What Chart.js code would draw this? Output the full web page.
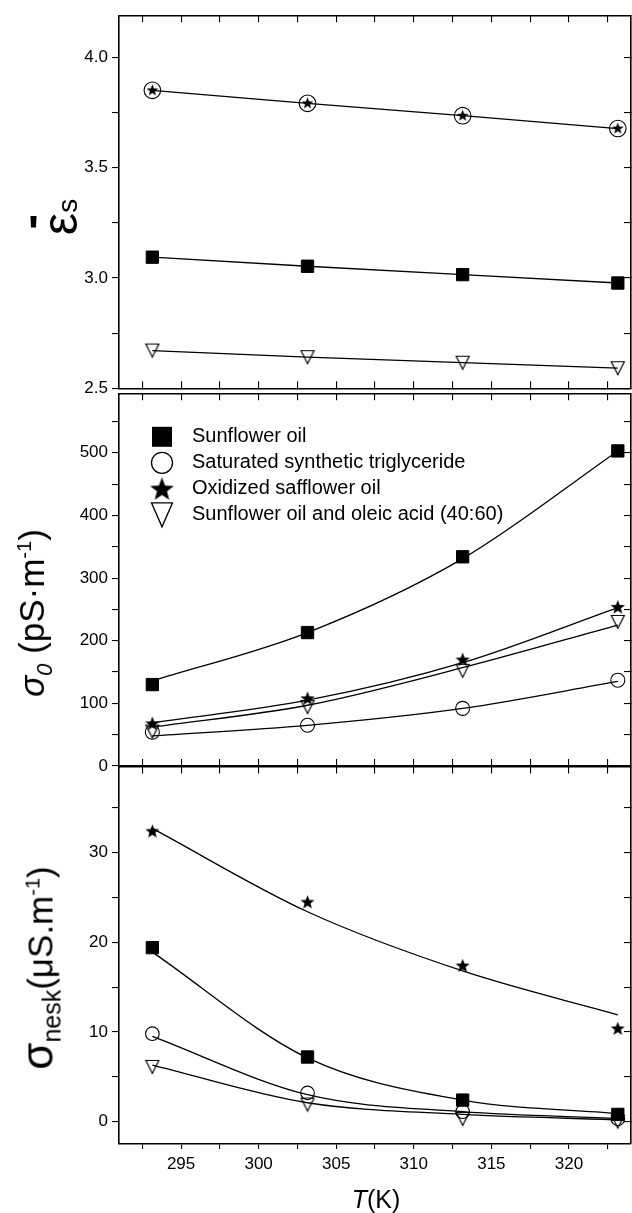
<!DOCTYPE html>
<html>
<head>
<meta charset="utf-8">
<script src="https://cdn.jsdelivr.net/npm/chart.js@4.4.1/dist/chart.umd.min.js"></script>
<style>
body { margin: 0; background: #fff; font-family: "Liberation Sans", Arial, sans-serif; }
#wrap { position: relative; width: 632px; height: 1213px; }
canvas { position: absolute; left: 0; top: 0; }
.ttl { position: absolute; white-space: nowrap; line-height: 1; color: #000; transform: translate(-50%, -50%) rotate(-90deg); }
</style>
</head>
<body>
<div id="wrap">
  <canvas id="eps_chart" width="632" height="1213"></canvas>
  <canvas id="sigma0_chart" width="632" height="1213"></canvas>
  <canvas id="nesk_chart" width="632" height="1213"></canvas>

  <div class="ttl" style="left:60px; top:217px; font-size:50px;">ε<span style="font-size:28px;">s</span></div>
  <div style="position:absolute; left:28px; top:209px; font-size:46px; font-weight:bold; line-height:1;">'</div>
  <div class="ttl" style="left:35px; top:613px; font-size:35px;"><i>σ</i><sub style="font-size:22px;"><i>0</i></sub> (pS·m<sup style="font-size:20px;">-1</sup>)</div>
  <div class="ttl" style="left:40px; top:968px; font-size:35px;"><span style="font-size:44px;">σ</span><sub style="font-size:25px;">nesk</sub>(μS.m<sup style="font-size:20px;">-1</sup>)</div>
  <div style="position:absolute; left:376px; top:1199px; transform:translate(-50%,-50%); font-size:25px; line-height:1; white-space:nowrap;"><i>T</i>(K)</div>
</div>

<script>
var temps = [293.15, 303.15, 313.15, 323.15];
var seriesNames = ['Sunflower oil', 'Saturated synthetic triglyceride', 'Oxidized safflower oil', 'Sunflower oil and oleic acid (40:60)'];

// top panel: static permittivity
var epsSunflower = [3.094, 3.053, 3.015, 2.977];
var epsSaturated = [3.850, 3.791, 3.735, 3.677];
var epsOxidized = [3.852, 3.793, 3.737, 3.679];
var epsOleic = [2.671, 2.641, 2.616, 2.591];

// middle panel: sigma0 (pS/m), measured points and fitted curves
var s0Sunflower = [130, 213, 334, 503];
var s0Saturated = [54, 65, 92, 137];
var s0Oxidized = [68, 108, 170, 254];
var s0Oleic = [55, 94, 152, 230];
var s0FitSunflower = [136, 213, 331, 503];
var s0FitSaturated = [48, 65, 92, 135];
var s0FitOxidized = [69, 105, 165, 253];
var s0FitOleic = [62, 97, 157, 225];

// bottom panel: sigma nesk (uS/m)
var snSunflower = [19.4, 7.2, 2.4, 0.8];
var snSaturated = [9.8, 3.2, 1.1, 0.3];
var snOxidized = [32.4, 24.5, 17.4, 10.4];
var snOleic = [6.1, 1.9, 0.3, 0.0];
var snFitSunflower = [18.9, 7.1, 2.4, 0.9];
var snFitSaturated = [9.5, 3.0, 1.1, 0.35];
var snFitOxidized = [32.7, 23.4, 16.8, 11.9];
var snFitOleic = [6.3, 2.1, 0.8, 0.2];

// ticks
var tempTicks = [292.5, 295, 297.5, 300, 302.5, 305, 307.5, 310, 312.5, 315, 317.5, 320, 322.5];
var tempLabels = [295, 300, 305, 310, 315, 320];
var epsTicks = [2.5, 2.75, 3.0, 3.25, 3.5, 3.75, 4.0];
var epsLabels = [2.5, 3.0, 3.5, 4.0];
var s0Ticks = [0, 50, 100, 150, 200, 250, 300, 350, 400, 450, 500, 550];
var s0Labels = [0, 100, 200, 300, 400, 500];
var snTicks = [0, 5, 10, 15, 20, 25, 30, 35];
var snLabels = [0, 10, 20, 30];

Chart.defaults.font.family = '"Liberation Sans", Arial, sans-serif';
Chart.defaults.font.size = 17;
Chart.defaults.color = '#000';

function pts(values) {
    return values.map(function (v, i) { return { x: temps[i], y: v }; });
}

function starImage(R) {
    var size = Math.ceil(2 * R) + 2;
    var c = document.createElement('canvas');
    c.width = size; c.height = size;
    var g = c.getContext('2d');
    var cx = size / 2, cy = size / 2 + R * 0.08;
    g.beginPath();
    for (var i = 0; i < 10; i++) {
        var a = -Math.PI / 2 + i * Math.PI / 5;
        var rr = i % 2 ? R * 0.42 : R;
        g.lineTo(cx + rr * Math.cos(a), cy + rr * Math.sin(a));
    }
    g.closePath();
    g.fillStyle = '#000';
    g.fill();
    return c;
}

function triImage(w, h) {
    var c = document.createElement('canvas');
    c.width = w + 3; c.height = h + 3;
    var g = c.getContext('2d');
    g.lineWidth = 1.2;
    g.strokeStyle = '#000';
    g.beginPath();
    g.moveTo(1.5, 1.5);
    g.lineTo(w + 1.5, 1.5);
    g.lineTo(w / 2 + 1.5, h + 1.5);
    g.closePath();
    g.stroke();
    return c;
}

var starSmall = starImage(6.2);
var starMid = starImage(7.6);
var starBottom = starImage(7.4);
var triMark = triImage(13, 13);

function squareSet(data, line) {
    return { data: pts(data), showLine: line, borderColor: '#000', borderWidth: 1.3,
        pointStyle: 'rect', pointRadius: 8.7, pointBackgroundColor: '#000', pointBorderColor: '#000', pointBorderWidth: 1, order: 1 };
}
function circleSet(data, line, r) {
    return { data: pts(data), showLine: line, borderColor: '#000', borderWidth: 1.3,
        pointStyle: 'circle', pointRadius: r, pointBackgroundColor: 'rgba(0,0,0,0)', pointBorderColor: '#000', pointBorderWidth: 1.1, order: 2 };
}
function starSet(data, img) {
    return { data: pts(data), showLine: false, pointStyle: img, pointRadius: 6, order: 0 };
}
function triSet(data, line) {
    return { data: pts(data), showLine: line, borderColor: '#000', borderWidth: 1.3,
        pointStyle: triMark, pointRadius: 6, order: 1 };
}
function fitSet(data) {
    return { data: pts(data), showLine: true, borderColor: '#000', borderWidth: 1.3,
        cubicInterpolationMode: 'monotone', pointRadius: 0, order: 5 };
}

function buildScales(yMin, yMax, yTicks, yLabels, digits, showX) {
    function setTicks(list) {
        return function (axis) { axis.ticks = list.map(function (v) { return { value: v }; }); };
    }
    var grid = function (len) { return { drawOnChartArea: false, drawTicks: true, tickLength: len, color: '#000', lineWidth: 1.1 }; };
    var border = { display: true, color: '#000', width: 1.6 };
    return {
        x: {
            type: 'linear', position: 'bottom', min: 291, max: 324,
            afterBuildTicks: setTicks(tempTicks),
            afterFit: function (a) { a.height = showX ? 30 : 0; },
            ticks: {
                display: showX, autoSkip: false, maxRotation: 0, padding: 5,
                callback: function (v) { return tempLabels.indexOf(v) >= 0 ? String(v) : ''; }
            },
            grid: grid(showX ? 5 : -7), border: border
        },
        x2: {
            type: 'linear', position: 'top', axis: 'x', min: 291, max: 324,
            afterBuildTicks: setTicks(tempTicks),
            afterFit: function (a) { a.height = 0; },
            ticks: { display: false },
            grid: grid(-7), border: border
        },
        y: {
            type: 'linear', position: 'left', min: yMin, max: yMax,
            afterBuildTicks: setTicks(yTicks),
            afterFit: function (a) { a.width = 119; },
            ticks: {
                autoSkip: false, padding: 4,
                callback: function (v) { return yLabels.indexOf(v) >= 0 ? v.toFixed(digits) : ''; }
            },
            grid: grid(7), border: border
        },
        y2: {
            type: 'linear', position: 'right', axis: 'y', min: yMin, max: yMax,
            afterBuildTicks: setTicks(yTicks),
            afterFit: function (a) { a.width = 0; },
            ticks: { display: false },
            grid: grid(-7), border: border
        }
    };
}

function baseOptions(padTop, padBottom, scales) {
    return {
        responsive: false, animation: false, devicePixelRatio: 1,
        layout: { autoPadding: false, padding: { top: padTop, bottom: padBottom, left: 0, right: 1 } },
        plugins: { legend: { display: false }, tooltip: { enabled: false } },
        scales: scales
    };
}

// legend drawn inside the middle panel
var boxLegend = {
    id: 'boxLegend',
    afterDatasetsDraw: function (chart) {
        var g = chart.ctx;
        var x = chart.chartArea.left + 43;
        var y0 = chart.chartArea.top + 43.5;
        var step = 26;
        g.save();
        g.strokeStyle = '#000';
        g.fillStyle = '#000';
        g.lineWidth = 1.3;
        // square
        g.fillRect(x - 10, y0 - 10, 20, 20);
        // circle
        g.beginPath();
        g.arc(x, y0 + step, 10.5, 0, 2 * Math.PI);
        g.stroke();
        // star
        var big = starImage(12.5);
        g.drawImage(big, x - big.width / 2, y0 + 2 * step - big.height / 2);
        // triangle
        var ty = y0 + 3 * step;
        g.beginPath();
        g.moveTo(x - 10.5, ty - 12);
        g.lineTo(x + 10.5, ty - 12);
        g.lineTo(x, ty + 12);
        g.closePath();
        g.stroke();
        g.font = '20px "Liberation Sans", Arial, sans-serif';
        g.textBaseline = 'middle';
        g.textAlign = 'left';
        for (var i = 0; i < seriesNames.length; i++) {
            g.fillText(seriesNames[i], x + 30, y0 - 0.5 + i * step);
        }
        g.restore();
    }
};

var eps_chart = new Chart(document.getElementById('eps_chart'), {
    type: 'scatter',
    data: {
        datasets: [
            starSet(epsOxidized, starSmall),
            circleSet(epsSaturated, true, 8.3),
            squareSet(epsSunflower, true),
            triSet(epsOleic, true)
        ]
    },
    options: baseOptions(15.3, 1213 - 388.3, buildScales(2.5, 4.19, epsTicks, epsLabels, 1, false))
});

var sigma0_chart = new Chart(document.getElementById('sigma0_chart'), {
    type: 'scatter',
    data: {
        datasets: [
            squareSet(s0Sunflower, false),
            circleSet(s0Saturated, false, 7),
            starSet(s0Oxidized, starMid),
            triSet(s0Oleic, false),
            fitSet(s0FitSunflower),
            fitSet(s0FitSaturated),
            fitSet(s0FitOxidized),
            fitSet(s0FitOleic)
        ]
    },
    options: baseOptions(393.3, 1213 - 766, buildScales(0, 595, s0Ticks, s0Labels, 0, false)),
    plugins: [boxLegend]
});

var nesk_chart = new Chart(document.getElementById('nesk_chart'), {
    type: 'scatter',
    data: {
        datasets: [
            squareSet(snSunflower, false),
            circleSet(snSaturated, false, 6.8),
            starSet(snOxidized, starBottom),
            triSet(snOleic, false),
            fitSet(snFitSunflower),
            fitSet(snFitSaturated),
            fitSet(snFitOxidized),
            fitSet(snFitOleic)
        ]
    },
    options: baseOptions(766.5, 1213 - 1144 - 30, buildScales(-2.5, 39.6, snTicks, snLabels, 0, true))
});
</script>
</body>
</html>
